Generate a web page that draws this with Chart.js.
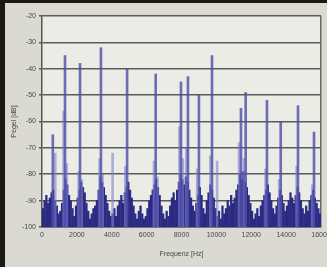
<!DOCTYPE html>
<html>
<head>
<meta charset="utf-8">
<script src="https://cdn.jsdelivr.net/npm/chart.js@4.4.1/dist/chart.umd.min.js"></script>
<style>
  html, body { margin: 0; padding: 0; background: #dadad2; }
  #frame { width: 322px; height: 264px; border-left: 5px solid #1c1814; border-top: 3px solid #1c1814; }
</style>
</head>
<body>
<div id="frame"><canvas id="myChart" width="322" height="264"></canvas></div>
<script>
// main harmonic peaks
const peakFreqs = [620, 1320, 2180, 3380, 4880, 6520, 7970, 8370, 9000, 9750, 11410, 11680, 12900, 13690, 14680, 15600];
const peakLevels = [-65, -35, -38, -32, -40, -42, -45, -43, -50, -35, -55, -49, -52, -60, -54, -64];

// lighter side lines next to the peaks
const sideFreqs = [760, 1240, 1420, 2100, 2280, 3300, 3480, 4050, 4780, 6420, 6620, 7880, 8080, 8280, 8900, 9660, 10040, 11300, 11580, 12820, 13600, 14600, 15500];
const sideLevels = [-72, -56, -76, -79, -82, -74, -80, -72, -77, -75, -81, -62, -74, -70, -78, -73, -75, -68, -74, -78, -82, -77, -84];

// noise floor, one value per 100 Hz from 0 to 15900 Hz
const noiseStep = 100;
const noiseLevels = [
  -93, -90, -88, -91, -89, -87, -86, -90, -92, -95,
  -94, -91, -86, -82, -84, -88, -90, -93, -96, -92,
  -89, -86, -83, -85, -87, -91, -94, -97, -95, -93,
  -92, -90, -86, -81, -83, -85, -88, -91, -94, -96,
  -95, -93, -96, -92, -90, -88, -91, -87, -85, -83,
  -86, -89, -92, -95, -97, -94, -92, -95, -97, -96,
  -93, -90, -88, -86, -84, -82, -85, -88, -92, -95,
  -97, -94, -96, -92, -89, -87, -90, -86, -83, -80,
  -82, -84, -81, -83, -86, -89, -92, -94, -91, -88,
  -85, -88, -93, -95, -90, -87, -84, -86, -89, -93,
  -96, -94, -97, -92, -95, -93, -90, -92, -88, -91,
  -89, -86, -84, -80, -82, -79, -83, -85, -88, -91,
  -94, -97, -95, -93, -96, -92, -90, -88, -86, -84,
  -87, -90, -93, -95, -92, -89, -86, -88, -91, -94,
  -92, -90, -87, -89, -91, -88, -85, -87, -90, -93,
  -95, -92, -94, -90, -88, -86, -89, -91, -93, -95
];

const xTicks = [0, 2000, 4000, 6000, 8000, 10000, 12000, 14000, 16000];
const yMin = -100;
const yMax = -20;

const font = { family: 'Liberation Sans', size: 7 };
const textColor = '#474747';

const plotBg = {
   id: 'plotBg',
   beforeDraw(chart) {
      const a = chart.chartArea;
      chart.ctx.save();
      chart.ctx.fillStyle = '#ececE6';
      chart.ctx.fillRect(a.left, a.top, a.right - a.left, a.bottom - a.top);
      chart.ctx.restore();
   }
};

var ctx = document.getElementById('myChart');
var myChart = new Chart(ctx, {
   type: 'bar',
   data: {
      datasets: [
         {
            data: peakFreqs.map((f, i) => ({ x: f, y: [yMin, peakLevels[i]] })),
            backgroundColor: 'rgba(78, 78, 170, 0.8)',
            barThickness: 2,
            order: 1,
         },
         {
            data: sideFreqs.map((f, i) => ({ x: f, y: [yMin, sideLevels[i]] })),
            backgroundColor: 'rgba(130, 130, 205, 0.6)',
            barThickness: 2,
            order: 2,
         },
         {
            data: noiseLevels.map((v, i) => ({ x: i * noiseStep + 50, y: [yMin, v] })),
            backgroundColor: '#2a2a82',
            barThickness: 1.6,
            order: 3,
         },
      ],
   },
   options: {
      responsive: false,
      animation: false,
      grouped: false,
      layout: { padding: { left: 0, right: 6, top: 13, bottom: 0 } },
      plugins: {
         legend: { display: false },
         tooltip: { enabled: false }
      },
      scales: {
         x: {
            type: 'linear',
            min: 0,
            max: 16000,
            offset: false,
            afterBuildTicks: s => { s.ticks = xTicks.map(v => ({ value: v })); },
            afterFit: s => { s.height = 40; s.paddingLeft = 0; s.paddingRight = 0; },
            ticks: { font: font, color: textColor, padding: 4, maxRotation: 0, autoSkip: false, callback: v => String(v) },
            grid: {
               offset: false,
               drawTicks: false,
               lineWidth: 1.5,
               color: c => (c.tick && c.tick.value === 16000) ? '#6a6a6a' : 'rgba(0,0,0,0)'
            },
            border: { display: true, color: '#555', width: 1.5 },
            title: { display: true, text: 'Frequenz [Hz]', font: font, color: textColor, padding: { top: 2, bottom: 9 } }
         },
         y: {
            min: yMin,
            max: yMax,
            afterFit: s => { s.width = 37; },
            ticks: { stepSize: 10, font: font, color: textColor, padding: 3 },
            grid: { color: '#5a5a5a', lineWidth: 1.6, tickLength: 3 },
            border: { color: '#555', width: 1.5 },
            title: { display: true, text: 'Pegel [dB]', font: font, color: textColor, padding: { top: 5, bottom: 2 } }
         }
      }
   },
   plugins: [plotBg]
});
</script>
</body>
</html>
